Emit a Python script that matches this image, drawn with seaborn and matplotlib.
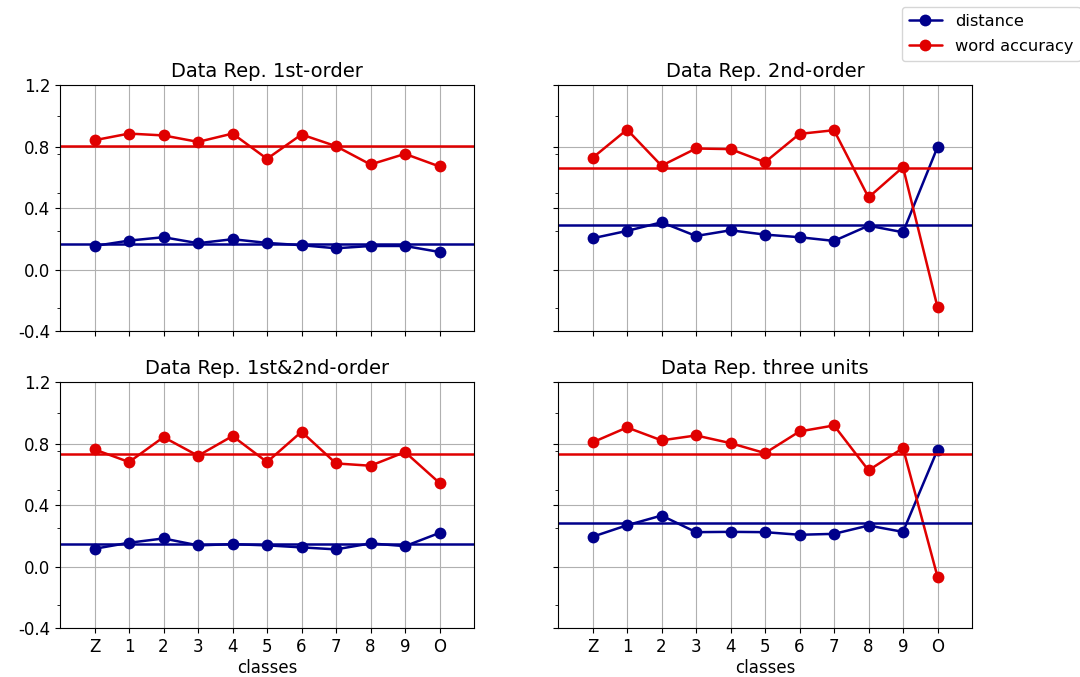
import numpy as np
import pandas as pd
import matplotlib
matplotlib.use("Agg")
import matplotlib.pyplot as plt
from matplotlib.lines import Line2D
import seaborn as sns

# Classes on the x axis
classes = ["Z", "1", "2", "3", "4", "5", "6", "7", "8", "9", "O"]

panel_titles = [
    "Data Rep. 1st-order",
    "Data Rep. 2nd-order",
    "Data Rep. 1st&2nd-order",
    "Data Rep. three units",
]

# Per-class distance
dist_1st = [0.155, 0.190, 0.212, 0.173, 0.199, 0.175, 0.160, 0.140, 0.155, 0.155, 0.116]
dist_2nd = [0.205, 0.253, 0.309, 0.220, 0.257, 0.229, 0.212, 0.188, 0.287, 0.244, 0.798]
dist_1st2nd = [0.117, 0.156, 0.184, 0.139, 0.147, 0.139, 0.126, 0.113, 0.152, 0.134, 0.220]
dist_three = [0.195, 0.270, 0.333, 0.225, 0.227, 0.225, 0.208, 0.214, 0.268, 0.227, 0.761]

# Per-class word accuracy
acc_1st = [0.843, 0.886, 0.874, 0.832, 0.886, 0.722, 0.880, 0.804, 0.685, 0.754, 0.672]
acc_2nd = [0.728, 0.912, 0.677, 0.789, 0.785, 0.700, 0.884, 0.908, 0.471, 0.668, -0.243]
acc_1st2nd = [0.763, 0.681, 0.843, 0.722, 0.850, 0.681, 0.878, 0.672, 0.657, 0.746, 0.545]
acc_three = [0.809, 0.906, 0.822, 0.854, 0.804, 0.739, 0.880, 0.919, 0.627, 0.772, -0.065]

series_names = ["distance", "word accuracy"]
y_ticks = [-0.4, 0.0, 0.4, 0.8, 1.2]
y_minor = [-0.25, 0.25, 0.5, 0.75, 1.0]

BLUE = "#00008b"
RED = "#e00000"
palette = {"distance": BLUE, "word accuracy": RED}
LW = 1.8
MS = 8.5

sns.set_style("ticks")
plt.rcParams["font.family"] = ["DejaVu Sans"]
plt.rcParams.update({
    "text.color": "black",
    "axes.labelcolor": "black",
    "xtick.color": "black",
    "ytick.color": "black",
    "axes.titlecolor": "black",
})

fig, axes = plt.subplots(2, 2, figsize=(10.8, 6.77), dpi=100, sharex=True, sharey=True)
fig.subplots_adjust(left=0.0556, right=0.9, top=0.874, bottom=0.072,
                    wspace=0.203, hspace=0.207)

panels = [
    (dist_1st, acc_1st),
    (dist_2nd, acc_2nd),
    (dist_1st2nd, acc_1st2nd),
    (dist_three, acc_three),
]

for ax, title, (dist, acc) in zip(axes.flat, panel_titles, panels):
    df = pd.DataFrame({
        "classes": classes * 2,
        "value": list(dist) + list(acc),
        "series": [series_names[0]] * len(classes) + [series_names[1]] * len(classes),
    })
    ax.grid(True, which="major", color="#b0b0b0", linewidth=0.8)
    ax.set_axisbelow(True)
    sns.lineplot(data=df, x="classes", y="value", hue="series", palette=palette,
                 marker="o", markersize=MS, markeredgewidth=0, linewidth=LW,
                 sort=False, legend=False, ax=ax)
    # Mean level of each series across the classes
    ax.axhline(np.mean(dist), color=BLUE, linewidth=LW)
    ax.axhline(np.mean(acc), color=RED, linewidth=LW)

    ax.set_title(title, fontsize=14)
    ax.set_xlim(-1, 11)
    ax.set_ylim(-0.4, 1.2)
    ax.set_yticks(y_ticks)
    ax.set_yticks(y_minor, minor=True)
    ax.set_yticklabels([f"{v:.1f}" for v in y_ticks])
    ax.set_ylabel("")
    ax.set_xlabel("")
    ax.tick_params(axis="both", which="major", labelsize=12, length=3.5, width=0.8,
                   direction="out", color="black")
    ax.tick_params(axis="y", which="minor", length=2, width=0.6, color="black")
    for sp in ax.spines.values():
        sp.set_visible(True)
        sp.set_color("black")
        sp.set_linewidth(0.8)

for ax in axes[1]:
    ax.set_xlabel("classes", fontsize=12, labelpad=2)
for ax in axes[:, 1]:
    ax.tick_params(axis="y", labelleft=False)

handles = [
    Line2D([], [], color=BLUE, marker="o", markersize=MS, markeredgewidth=0, linewidth=LW),
    Line2D([], [], color=RED, marker="o", markersize=MS, markeredgewidth=0, linewidth=LW),
]
fig.legend(handles, series_names, loc="upper right", bbox_to_anchor=(1.008, 1.002),
           fontsize=11.7, frameon=True, fancybox=True, edgecolor="#cccccc",
           labelspacing=0.6, borderpad=0.45)

fig.savefig("out.png", dpi=100)
